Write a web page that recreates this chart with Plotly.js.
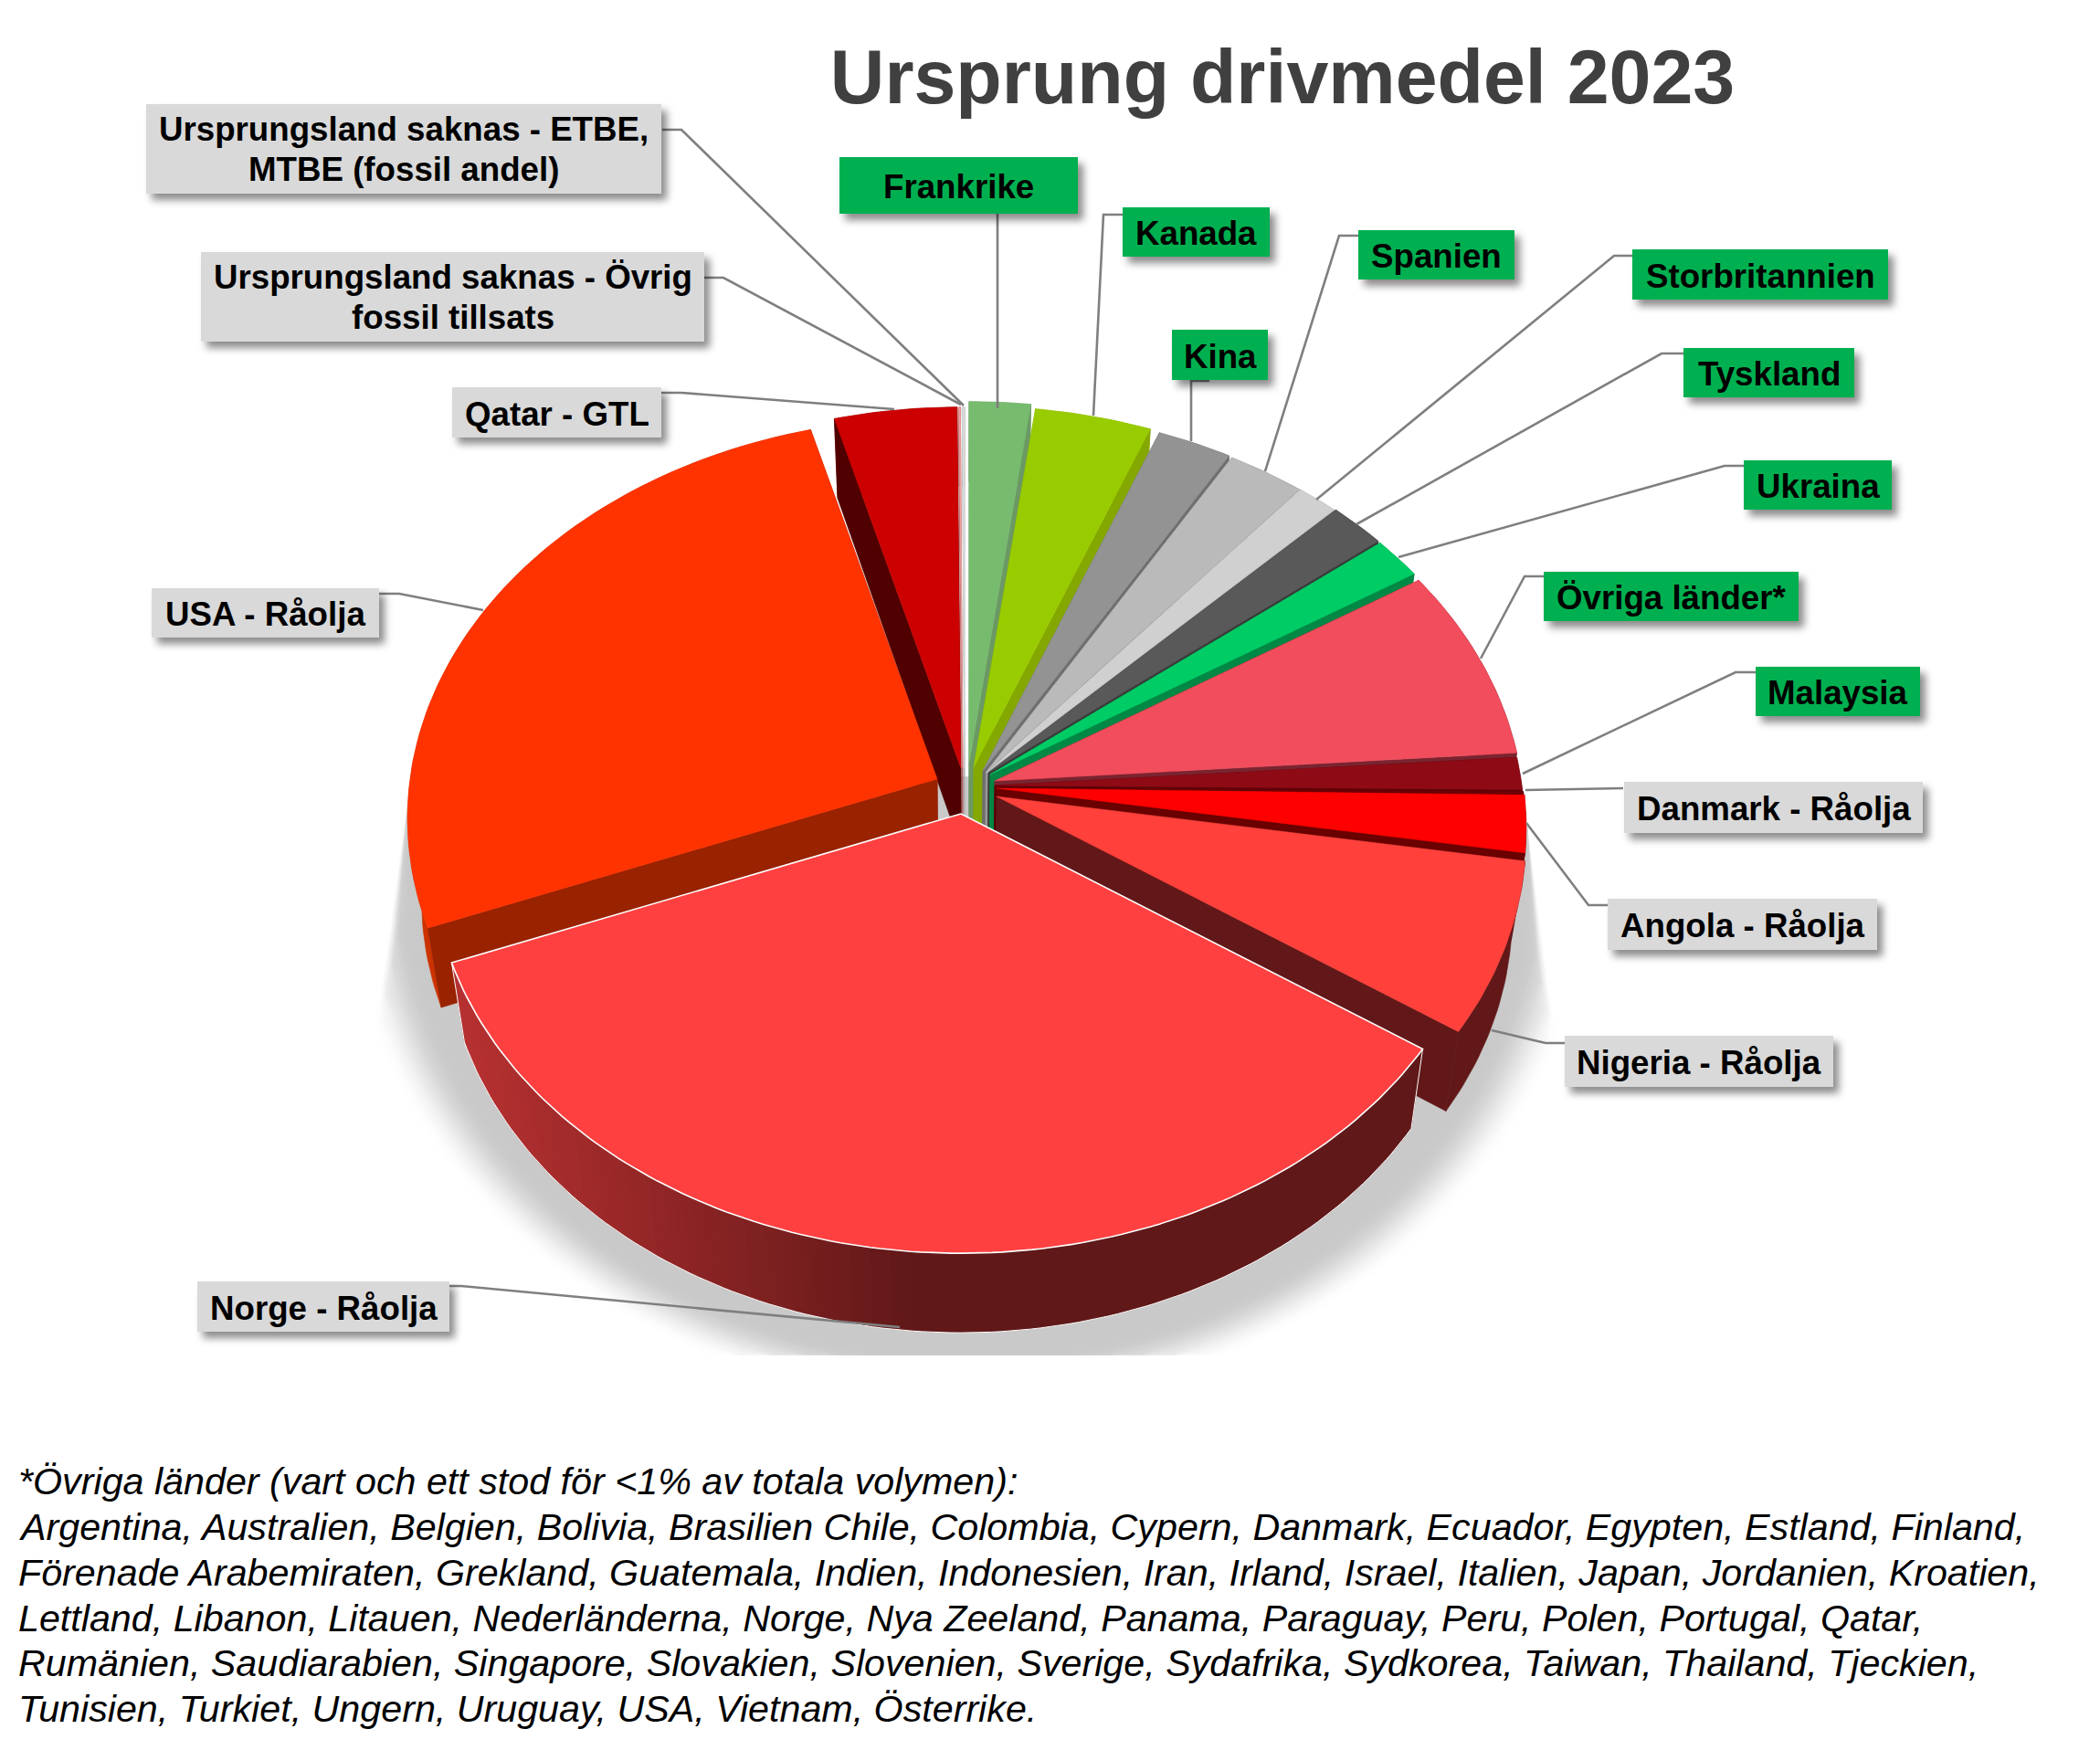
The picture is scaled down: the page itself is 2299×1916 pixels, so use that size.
<!DOCTYPE html>
<html><head><meta charset="utf-8">
<script src="https://cdn.plot.ly/plotly-3.0.1.min.js"></script>
<style>
html,body{margin:0;padding:0;background:#fff}
.annotation rect.bg{filter:drop-shadow(6px 7px 4px rgba(0,0,0,.45))}
</style></head><body><div id="chart" style="width:2299px;height:1916px"></div>
<script>
// ---- data: share of total volume (%), clockwise from 12 o'clock
const sliceNames = ["Frankrike","Kanada","Kina","Spanien","Storbritannien","Tyskland","Ukraina","Övriga länder*","Malaysia","Danmark - Råolja","Angola - Råolja","Nigeria - Råolja","Norge - Råolja","USA - Råolja","Qatar - GTL","Ursprungsland saknas - Övrig fossil tillsats","Ursprungsland saknas - ETBE, MTBE (fossil andel)"];
const sliceValues = [2.05,3.9,2.5,2.6,1.4,1.9,1.7,7.8,1.3,0.1,2.3,6.9,34.6,26.65,4.1,0.05,0.08];
// ---- styles
const topColors  = ["#77BB6F","#99CC00","#939393","#BABABA","#D0D0D0","#595959","#00CC66","#F24D5C","#8E0B16","#6E0008","#FF0000","#FF403B","#FF4040","#FF3300","#CC0000","#F2A0A0","#D8D8D8"];
const wallColors = ["#6B9964","#84A800","#6F6F6F","#7F7F7F","#9A9A9A","#3A3A3A","#008844","#7A2430","#5B0609","#500005","#6A0000","#621818","#601818","#992200","#500000","#B06060","#B0B0B0"];
const outerColors= ["#6B9964","#84A800","#6F6F6F","#7F7F7F","#9A9A9A","#3A3A3A","#008844","#7A2430","#5B0609","#500005","#6A0000","#621818","#601818","#CC3300","#800000","#B06060","#B0B0B0"];
// explosion: tip of every wedge on the page
const tipX = [1061,1066,1076,1079,1080,1082,1084,1089,1089,1090,1091,1091,1052,1026,1052,1054,1056];
const tipY = [835,840,844,846,846,846,848,855,860,862,863,872,891,853,841,841,841];
// painter's order, back to front
const drawOrder = [16,15,14,13,0,1,2,3,4,5,6,7,8,9,10,11,12];
// projection of the pie disc
const RX=577, RY=434, PERSP=0.098, DEPTH=87, CX=1055, BOTTOM_SCALE=0.975;

const labelTexts = ["Ursprungsland saknas - ETBE,<br>MTBE (fossil andel)","Ursprungsland saknas - Övrig<br>fossil tillsats","Qatar - GTL","Frankrike","Kanada","Kina","Spanien","Storbritannien","Tyskland","Ukraina","Övriga länder*","Malaysia","Danmark - Råolja","Angola - Råolja","Nigeria - Råolja","USA - Råolja","Norge - Råolja"];
const labelFills = ["#D9D9D9","#D9D9D9","#D9D9D9","#00B050","#00B050","#00B050","#00B050","#00B050","#00B050","#00B050","#00B050","#00B050","#D9D9D9","#D9D9D9","#D9D9D9","#D9D9D9","#D9D9D9"];
const labelBoxes = [[160,724,114,212],[220,771,276,374],[495,724,424,479],[919,1180,172,234],[1229,1390,227,281],[1283,1388,361,416],[1487,1658,252,306],[1787,2067,273,328],[1843,2030,381,435],[1909,2071,504,558],[1690,1969,626,680],[1922,2102,730,784],[1778,2105,856,912],[1760,2055,984,1040],[1713,2007,1134,1190],[166,415,644,698],[216,492,1403,1458]];
const leaders = [
 [[725,142],[746,142],[1055,444]],[[771,304],[792,304],[1052,443]],[[724,430],[746,430],[979,448]],
 [[1092,234],[1092,447]],[[1229,235],[1208,235],[1197,455]],[[1324,417],[1304,417],[1304,483]],
 [[1487,258],[1466,258],[1385,516]],[[1787,280],[1767,280],[1441,547]],[[1843,387],[1819,387],[1485,574]],
 [[1909,510],[1888,510],[1531,610]],[[1691,631],[1669,631],[1621,721]],[[1922,736],[1900,736],[1667,847]],
 [[1777,863],[1670,865]],[[1760,991],[1739,991],[1671,901]],[[1713,1142],[1692,1142],[1633,1128]],
 [[415,650],[437,650],[529,668]],[[492,1408],[505,1408],[985,1453]]];
const footnoteLines = ["*Övriga länder (vart och ett stod för &lt;1% av totala volymen):",
"Argentina, Australien, Belgien, Bolivia, Brasilien Chile, Colombia, Cypern, Danmark, Ecuador, Egypten, Estland, Finland,",
"Förenade Arabemiraten, Grekland, Guatemala, Indien, Indonesien, Iran, Irland, Israel, Italien, Japan, Jordanien, Kroatien,",
"Lettland, Libanon, Litauen, Nederländerna, Norge, Nya Zeeland, Panama, Paraguay, Peru, Polen, Portugal, Qatar,",
"Rumänien, Saudiarabien, Singapore, Slovakien, Slovenien, Sverige, Sydafrika, Sydkorea, Taiwan, Thailand, Tjeckien,",
"Tunisien, Turkiet, Ungern, Uruguay, USA, Vietnam, Österrike."];

// ---- geometry from the values
const total = sliceValues.reduce((a,b)=>a+b,0);
let cum=0;
const starts=[], ends=[];
sliceValues.forEach(v=>{starts.push(cum/total*360);cum+=v;ends.push(cum/total*360);});
const rad=d=>d*Math.PI/180;
function rim(i,deg){const u=Math.sin(rad(deg)),v=Math.cos(rad(deg)),s=1/(1+PERSP*v);
  return [tipX[i]+RX*u*s, tipY[i]-RY*v*s];}
const low=p=>[CX+(p[0]-CX)*BOTTOM_SCALE,p[1]+DEPTH];
function poly(pts,fill,opts){opts=opts||{};
  const xs=pts.map(p=>p[0]).concat(pts[0][0]), ys=pts.map(p=>p[1]).concat(pts[0][1]);
  return {type:'scatter',mode:'lines',x:xs,y:ys,fill:'toself',fillcolor:fill,
    line:{color:opts.line||fill,width:opts.width===undefined?0.6:opts.width},
    hoverinfo:opts.hover?'text':'skip',text:opts.hover||undefined,hoveron:'fills',showlegend:false};}
function mix(a,b,t){const h=c=>[1,3,5].map(k=>parseInt(c.substr(k,2),16));const A=h(a),B=h(b);
  return 'rgb('+A.map((x,k)=>Math.round(x+(B[k]-x)*t)).join(',')+')';}

const traces=[];
// ground shadow, blurred by stacked layers; two straight flanks bound it at the sides
const SH=18, CLIP=1484;
for(let l=0;l<SH;l++){const t=l/(SH-1), e=t*t*(3-2*t);
  const rx=685-67*t, ry=590-51*t, pts=[[447,872]];
  for(let a=262;a>=98;a-=3){
    const y=Math.min(950-ry*Math.cos(rad(a)),CLIP);
    let x=1060+rx*Math.sin(rad(a));
    if(y<1134){
      const leftLim =447-(y-880)*37/234+22*t*(y-872)/240;
      const rightLim=1672+(y-905)*33/228-22*t*(y-905)/228;
      x=Math.min(Math.max(x,leftLim),rightLim);
    }
    pts.push([x,y]);}
  pts.push([1672,905]);pts.push([1050,850]);
  traces.push(poly(pts,mix('#FFFFFF','#C9C9C9',e),{width:0}));}
// wedges
drawOrder.forEach(i=>{
  const a0=starts[i],a1=ends[i],tip=[tipX[i],tipY[i]];
  const arc=[];const n=Math.max(2,Math.ceil(a1-a0));
  for(let k=0;k<=n;k++)arc.push(rim(i,a0+(a1-a0)*k/n));
  const isMain=(sliceNames[i]==="Norge - Råolja");
  const c0=arc[0],c1=arc[n];
  const cuts=[poly([tip,c0,low(c0),low(tip)],wallColors[i]),poly([tip,c1,low(c1),low(tip)],wallColors[i])];
  if(isMain){
    // cut faces under a shaded outer wall with a white edge
    traces.push(...cuts);
    for(let k=0;k<n;k++){const p=arc[Math.max(k-1,0)],q=arc[k+1];
      const t=Math.min(1,Math.max(0,(1000-arc[k][0])/490));
      traces.push(poly([p,q,low(q),low(p)],mix('#601818','#B53030',t),{width:0}));}
    const edge=arc.map(low).reverse();
    traces.push({type:'scatter',mode:'lines',x:[c1[0],low(c1)[0]].concat(edge.map(p=>p[0])).concat([c0[0]]),
      y:[c1[1],low(c1)[1]].concat(edge.map(p=>p[1])).concat([c0[1]]),line:{color:'#FFFFFF',width:1},hoverinfo:'skip',showlegend:false});
  } else {
    traces.push(poly(arc.concat(arc.slice().reverse().map(low)),outerColors[i]));
    traces.push(...cuts);
  }
  // top face
  traces.push(poly([tip].concat(arc),topColors[i],
    {hover:sliceNames[i]+': '+sliceValues[i]+' %',line:isMain?'#FFFFFF':topColors[i],width:isMain?1.6:0.5}));
});

const FONT='"Liberation Sans",Arial,sans-serif';
const labelFont={family:FONT,size:36.7,color:'#000',weight:'bold'};
const annotations=[];
const LABEL_LINE=44, LABEL_NUDGE=1.5;
labelTexts.forEach((t,k)=>{const b=labelBoxes[k],lines=t.split('<br>'),cx=(b[0]+b[1])/2,cy=(b[2]+b[3])/2;
  annotations.push({text:'&nbsp;',xref:'x',yref:'y',x:cx,y:cy,xanchor:'center',yanchor:'middle',
    width:b[1]-b[0],height:b[3]-b[2],bgcolor:labelFills[k],borderwidth:0,borderpad:0,showarrow:false,font:labelFont});
  lines.forEach((ln,j)=>annotations.push({text:ln,xref:'x',yref:'y',x:cx,
    y:cy+LABEL_NUDGE*(lines.length>1?0.6:1)+(j-(lines.length-1)/2)*LABEL_LINE,xanchor:'center',yanchor:'middle',showarrow:false,borderpad:0,font:labelFont}));
});
footnoteLines.forEach((ln,k)=>annotations.push({text:ln,xref:'x',yref:'y',x:19,y:1622+k*49.85,xanchor:'left',yanchor:'middle',
  showarrow:false,align:'left',borderpad:0,font:{family:FONT,size:41.24,color:'#000',style:'italic'}}));

const shapes=leaders.map(pts=>({type:'path',xref:'x',yref:'y',
  path:'M'+pts.map(p=>p[0]+','+p[1]).join(' L'),line:{color:'#7F7F7F',width:2.6},fillcolor:'rgba(0,0,0,0)'}));

Plotly.newPlot('chart',traces,{
  width:2299,height:1916,margin:{l:0,r:0,t:0,b:0,pad:0},paper_bgcolor:'#fff',plot_bgcolor:'#fff',showlegend:false,
  title:{text:'Ursprung drivmedel 2023',x:0.6107,xref:'paper',xanchor:'center',y:0.9562,yref:'paper',yanchor:'middle',
    font:{family:FONT,size:82.5,color:'#404040',weight:'bold'}},
  xaxis:{range:[0,2299],visible:false,fixedrange:true},
  yaxis:{range:[1916,0],visible:false,fixedrange:true},
  hovermode:'closest',annotations,shapes
},{displayModeBar:false,responsive:false});
</script></body></html>
